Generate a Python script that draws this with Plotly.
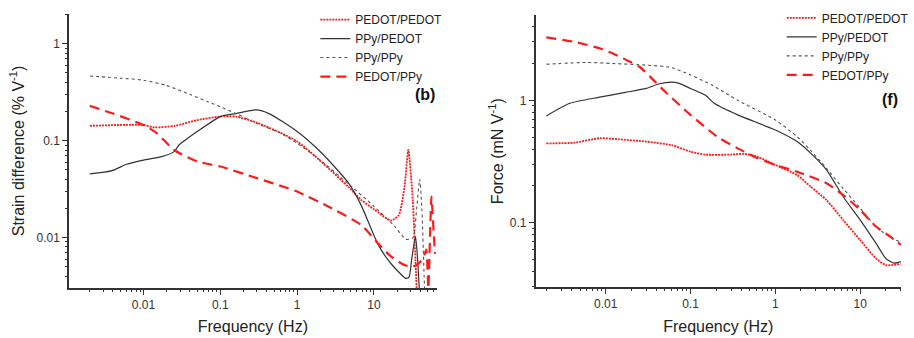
import plotly.graph_objects as go

# ---- Panel (b): strain difference vs frequency ----
f_pedot_pedot_b = [0.002, 0.01, 0.014, 0.026, 0.05, 0.1, 0.16, 0.3, 1, 4.6, 6.8, 10, 16.6, 21, 25, 28, 32, 34.7, 38]
s_pedot_pedot_b = [0.142, 0.145, 0.137, 0.142, 0.163, 0.177, 0.177, 0.153, 0.098, 0.0336, 0.0245, 0.0196, 0.015, 0.017, 0.0336, 0.08, 0.0245, 0.0058, 0.001]

f_ppy_pedot_b = [0.002, 0.0039, 0.006, 0.01, 0.0168, 0.025, 0.029, 0.05, 0.1, 0.16, 0.29, 0.43, 1, 2.1, 4.6, 6.8, 11.3, 16.6, 26, 28.6, 31, 34.7, 37, 40, 43]
s_ppy_pedot_b = [0.0453, 0.049, 0.057, 0.063, 0.068, 0.077, 0.09, 0.124, 0.177, 0.19, 0.207, 0.19, 0.124, 0.074, 0.037, 0.0216, 0.0085, 0.0054, 0.0038, 0.0039, 0.006, 0.0102, 0.006, 0.002, 0.001]

f_ppy_ppy_b = [0.002, 0.005, 0.01, 0.02, 0.04, 0.07, 0.1, 0.16, 0.3, 0.6, 1, 2, 4.6, 10, 18.5, 26, 32, 36, 39.4, 42, 45, 48]
s_ppy_ppy_b = [0.464, 0.44, 0.42, 0.37, 0.30, 0.25, 0.224, 0.19, 0.15, 0.12, 0.094, 0.063, 0.036, 0.021, 0.0131, 0.0096, 0.0099, 0.02, 0.04, 0.02, 0.004, 0.001]

f_pedot_ppy_b = [0.002, 0.004, 0.01, 0.015, 0.025, 0.05, 0.1, 0.3, 1, 2.5, 6.8, 11.3, 16.6, 25, 32, 40, 45, 48, 51, 54, 56, 58, 60, 62.5]
s_pedot_ppy_b = [0.228, 0.19, 0.145, 0.119, 0.08, 0.061, 0.054, 0.041, 0.0298, 0.021, 0.0135, 0.0087, 0.0064, 0.0052, 0.005, 0.0056, 0.0065, 0.0075, 0.003, 0.012, 0.0264, 0.018, 0.011, 0.0068]

# ---- Panel (f): force vs frequency ----
f_pedot_pedot_f = [0.002, 0.0042, 0.0085, 0.0145, 0.03, 0.06, 0.1, 0.15, 0.3, 0.43, 0.62, 1, 1.8, 2.6, 4, 6.3, 10, 15.3, 20, 30]
F_pedot_pedot_f = [0.445, 0.45, 0.49, 0.48, 0.46, 0.43, 0.38, 0.36, 0.36, 0.365, 0.345, 0.296, 0.245, 0.197, 0.153, 0.105, 0.072, 0.051, 0.045, 0.046]

f_ppy_pedot_f = [0.002, 0.0038, 0.0085, 0.017, 0.03, 0.042, 0.06, 0.072, 0.1, 0.15, 0.19, 0.36, 1, 1.8, 2.6, 4, 6.3, 10, 15.3, 20, 25, 30]
F_ppy_pedot_f = [0.745, 0.945, 1.06, 1.16, 1.25, 1.36, 1.41, 1.38, 1.25, 1.1, 0.945, 0.76, 0.572, 0.46, 0.37, 0.27, 0.163, 0.105, 0.068, 0.051, 0.0467, 0.048]

f_ppy_ppy_f = [0.002, 0.006, 0.012, 0.03, 0.06, 0.1, 0.18, 0.36, 1, 1.8, 2.6, 4, 6.3, 10, 15.3, 21.9, 30]
F_ppy_ppy_f = [1.97, 2.04, 2.0, 1.94, 1.85, 1.61, 1.33, 1.0, 0.69, 0.505, 0.39, 0.278, 0.19, 0.131, 0.093, 0.077, 0.069]

f_pedot_ppy_f = [0.002, 0.0042, 0.0085, 0.012, 0.017, 0.025, 0.035, 0.05, 0.1, 0.21, 0.36, 0.62, 1, 1.8, 4, 6.3, 10, 15.3, 21.9, 30]
F_pedot_ppy_f = [3.27, 3.01, 2.66, 2.42, 2.16, 1.88, 1.51, 1.18, 0.76, 0.50, 0.405, 0.336, 0.296, 0.261, 0.21, 0.168, 0.127, 0.093, 0.078, 0.066]

series_names = ["PEDOT/PEDOT", "PPy/PEDOT", "PPy/PPy", "PEDOT/PPy"]
x_tick_vals = [0.01, 0.1, 1, 10]
x_tick_text = ["0.01", "0.1", "1", "10"]
yb_tick_vals = [0.01, 0.1, 1]
yb_tick_text = ["0.01", "0.1", "1"]
yf_tick_vals = [0.1, 1]
yf_tick_text = ["0.1", "1"]

styles = [
    dict(color="#ff1a1a", width=1.8, dash="2px,1px"),
    dict(color="#333333", width=1.2, dash="solid"),
    dict(color="#555555", width=1.1, dash="3px,3px"),
    dict(color="#ff1a1a", width=2.2, dash="10px,6px"),
]

# minor tick positions (2..9 within each decade)
minor_vals = [m * 10.0 ** e for e in range(-4, 3) for m in range(2, 10)]

FONT = "Arial, Liberation Sans, sans-serif"

XB_RANGE = [-2.97, 1.817]
YB_RANGE = [-2.52, 0.306]
XF_RANGE = [-2.826, 1.48]
YF_RANGE = [-1.528, 0.697]
XB_DOM = [0.0766, 0.4847]
YB_DOM = [0.148, 0.9586]
XF_DOM = [0.5944, 1.0]
YF_DOM = [0.15, 0.9556]

fig = go.Figure()

panel_b = [(f_pedot_pedot_b, s_pedot_pedot_b), (f_ppy_pedot_b, s_ppy_pedot_b),
           (f_ppy_ppy_b, s_ppy_ppy_b), (f_pedot_ppy_b, s_pedot_ppy_b)]
panel_f = [(f_pedot_pedot_f, F_pedot_pedot_f), (f_ppy_pedot_f, F_ppy_pedot_f),
           (f_ppy_ppy_f, F_ppy_ppy_f), (f_pedot_ppy_f, F_pedot_ppy_f)]

for name, (fx, fy), st in zip(series_names, panel_b, styles):
    fig.add_trace(go.Scatter(x=fx, y=fy, mode="lines", name=name, line=st,
                             line_shape="spline", line_smoothing=0.6,
                             xaxis="x", yaxis="y", legend="legend"))
for name, (fx, fy), st in zip(series_names, panel_f, styles):
    fig.add_trace(go.Scatter(x=fx, y=fy, mode="lines", name=name, line=st,
                             line_shape="spline", line_smoothing=0.6,
                             xaxis="x2", yaxis="y2", legend="legend2"))

# empty helper traces so the minor-tick overlay axes get drawn
for xa, ya in [("x3", "y"), ("x", "y3"), ("x4", "y2"), ("x2", "y4")]:
    fig.add_trace(go.Scatter(x=[None], y=[None], mode="lines", xaxis=xa, yaxis=ya,
                             showlegend=False, hoverinfo="skip"))

axis_common = dict(
    type="log", showgrid=False, zeroline=False, showline=True,
    linecolor="#333333", linewidth=1.5, ticks="outside", ticklen=5,
    tickwidth=1.2, tickcolor="#333333", automargin=False,
    tickfont=dict(family=FONT, size=12, color="#333333"),
    mirror=False,
)

# overlay axes carrying only the short minor ticks
minor_common = dict(
    type="log", showgrid=False, zeroline=False, showline=False,
    ticks="outside", ticklen=3, tickwidth=1, tickcolor="#333333",
    showticklabels=False, automargin=False,
    tickmode="array", tickvals=minor_vals,
)

title_font = dict(family=FONT, size=16, color="#222222")
legend_common = dict(xanchor="left", yanchor="top",
                     bgcolor="rgba(0,0,0,0)", borderwidth=0,
                     font=dict(family=FONT, size=12, color="#222222"),
                     tracegroupgap=0, itemwidth=30)

fig.update_layout(
    width=914, height=338,
    margin=dict(l=0, r=0, t=0, b=0),
    paper_bgcolor="white", plot_bgcolor="white",
    template="none",
    font=dict(family=FONT, color="#222222"),
    xaxis=dict(axis_common, domain=XB_DOM, range=XB_RANGE,
               tickmode="array", tickvals=x_tick_vals, ticktext=x_tick_text,
               title=dict(text="Frequency (Hz)", font=title_font, standoff=10),
               anchor="y"),
    yaxis=dict(axis_common, domain=YB_DOM, range=YB_RANGE,
               tickmode="array", tickvals=yb_tick_vals, ticktext=yb_tick_text,
               title=dict(text="Strain difference (% V<sup>-1</sup>)", font=title_font, standoff=8),
               anchor="x"),
    xaxis2=dict(axis_common, domain=XF_DOM, range=XF_RANGE,
                tickmode="array", tickvals=x_tick_vals, ticktext=x_tick_text,
                title=dict(text="Frequency (Hz)", font=title_font, standoff=10),
                anchor="y2"),
    yaxis2=dict(axis_common, domain=YF_DOM, range=YF_RANGE,
                tickmode="array", tickvals=yf_tick_vals, ticktext=yf_tick_text,
                title=dict(text="Force (mN V<sup>-1</sup>)", font=title_font, standoff=2),
                anchor="x2"),
    xaxis3=dict(minor_common, range=XB_RANGE, overlaying="x", anchor="y"),
    yaxis3=dict(minor_common, range=YB_RANGE, overlaying="y", anchor="x"),
    xaxis4=dict(minor_common, range=XF_RANGE, overlaying="x2", anchor="y2"),
    yaxis4=dict(minor_common, range=YF_RANGE, overlaying="y2", anchor="x2"),
    legend=dict(legend_common, x=0.350, y=0.985),
    legend2=dict(legend_common, x=0.8676, y=0.99),
    annotations=[
        dict(text="<b>(b)</b>", x=0.472, y=0.719, xref="paper", yref="paper",
             xanchor="center", yanchor="middle",
             showarrow=False, font=dict(family=FONT, size=16, color="#111111")),
        dict(text="<b>(f)</b>", x=0.9874, y=0.706, xref="paper", yref="paper",
             xanchor="center", yanchor="middle",
             showarrow=False, font=dict(family=FONT, size=16, color="#111111")),
    ],
)

fig.write_html("out.html")
